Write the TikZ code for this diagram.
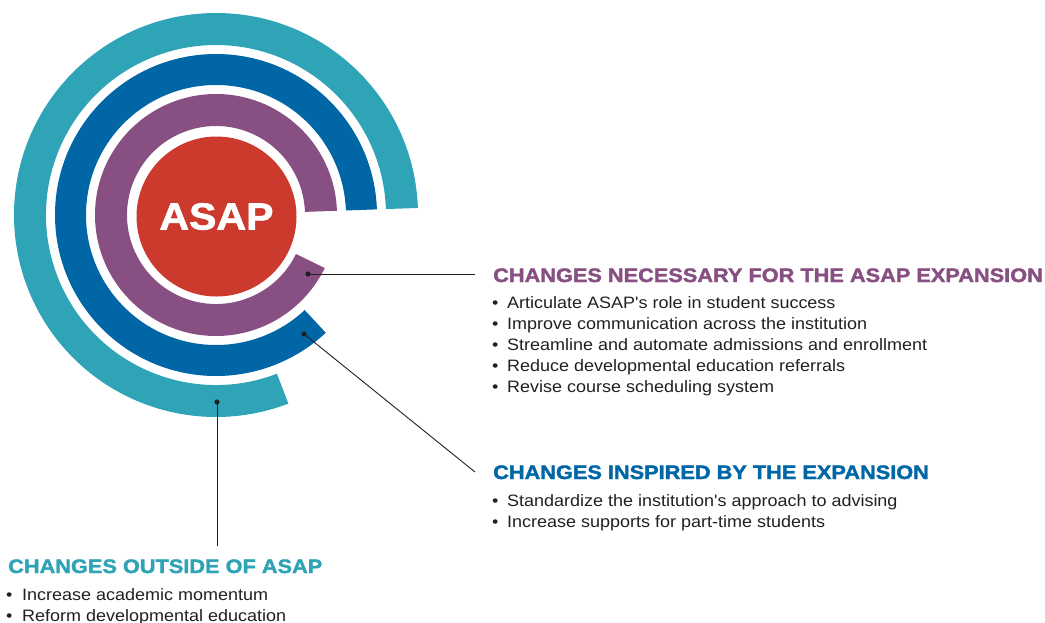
\documentclass[tikz,border=0pt]{standalone}
\usepackage{fontspec}
\setmainfont{Liberation Sans}[FakeStretch=1.09, Ligatures=TeXOff]
\newfontfamily\headfont{Liberation Sans Bold}[FakeStretch=1.115, FakeBold=1.8]
\newfontfamily\asapfont{Liberation Sans Bold}[FakeStretch=1.09, FakeBold=1.6]
\definecolor{cteal}{HTML}{2FA4B7}
\definecolor{cblue}{HTML}{0066A6}
\definecolor{cpurple}{HTML}{874F82}
\definecolor{cred}{HTML}{CC3A2E}
\definecolor{ctext}{HTML}{231F20}
\tikzset{
  head/.style={anchor=base west, inner sep=0pt, font=\fontsize{19.5}{21}\headfont},
  item/.style={anchor=base west, inner sep=0pt, text=ctext, font=\fontsize{16.5}{21}\selectfont},
  leader/.style={draw=ctext, line width=0.9pt},
  dot/.style={fill=ctext},
}
\newcommand{\bul}[1]{\makebox[#1][l]{\textbullet}}
\begin{document}
\begin{tikzpicture}[x=1pt,y=1pt]
\useasboundingbox (0,0) rectangle (1045,-622);
\begin{scope}[shift={(216,-215)}]
  % teal ring
  \fill[cteal] (2:202) arc[start angle=2, end angle=291, radius=202]
     -- (291:170) arc[start angle=291, end angle=2, radius=170] -- cycle;
  % blue ring
  \fill[cblue] (2:161) arc[start angle=2, end angle=313, radius=161]
     -- (313:130) arc[start angle=313, end angle=2, radius=130] -- cycle;
  % purple ring
  \fill[cpurple] (2:121) arc[start angle=2, end angle=334, radius=121]
     -- (334:89) arc[start angle=334, end angle=2, radius=89] -- cycle;
\end{scope}
\node[circle, fill=cred, minimum size=160pt, inner sep=0pt, text=white,
      font=\fontsize{37.7}{40}\asapfont] (asap) at (216.5,-216.5) {ASAP};

% dots and leader lines
\coordinate (d1) at (308,-274);
\coordinate (e1) at (475,-274);
\coordinate (d2) at (304,-334);
\coordinate (e2) at (475,-472);
\coordinate (d3) at (217,-402);
\coordinate (e3) at (217,-546);
\draw[leader] (d1) -- (e1);
\draw[leader] (d2) -- (e2);
\draw[leader] (d3) -- (e3);
\fill[dot] (d1) circle (2.6);
\fill[dot] (d2) circle (2.6);
\fill[dot] (d3) circle (2.6);

% group 1
\node[head, text=cpurple] (h1) at (493,-282) {CHANGES NECESSARY FOR THE ASAP EXPANSION};
\node[item] (a1) at (492,-308) {\bul{15pt}Articulate ASAP's role in student success};
\node[item] (a2) at (492,-329) {\bul{15pt}Improve communication across the institution};
\node[item] (a3) at (492,-350) {\bul{15pt}Streamline and automate admissions and enrollment};
\node[item] (a4) at (492,-371) {\bul{15pt}Reduce developmental education referrals};
\node[item] (a5) at (492,-392) {\bul{15pt}Revise course scheduling system};

% group 2
\node[head, text=cblue] (h2) at (493,-479) {CHANGES INSPIRED BY THE EXPANSION};
\node[item] (b1) at (492,-506) {\bul{15pt}Standardize the institution's approach to advising};
\node[item] (b2) at (492,-527) {\bul{15pt}Increase supports for part-time students};

% group 3
\node[head, text=cteal] (h3) at (8,-573) {CHANGES OUTSIDE OF ASAP};
\node[item] (c1) at (6,-600) {\bul{16pt}Increase academic momentum};
\node[item] (c2) at (6,-621) {\bul{16pt}Reform developmental education};
\end{tikzpicture}
\end{document}
